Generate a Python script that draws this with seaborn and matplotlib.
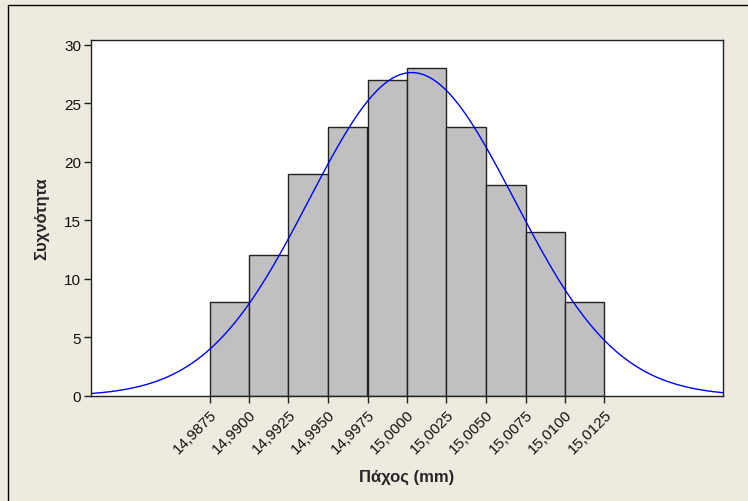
import numpy as np
import pandas as pd
import matplotlib
matplotlib.use("Agg")
import matplotlib.pyplot as plt
from matplotlib.lines import Line2D
import seaborn as sns

# Histogram of thickness measurements (bin edges in mm, counts per bin)
bin_edges = [14.9875, 14.9900, 14.9925, 14.9950, 14.9975, 15.0000,
             15.0025, 15.0050, 15.0075, 15.0100, 15.0125]
counts = [8, 12, 19, 23, 27, 28, 23, 18, 14, 8]
tick_labels = ["14,9875", "14,9900", "14,9925", "14,9950", "14,9975", "15,0000",
               "15,0025", "15,0050", "15,0075", "15,0100", "15,0125"]

# Fitted normal distribution
fit_mean = 15.0003
fit_std = 0.0065

bin_mids = [(a + b) / 2 for a, b in zip(bin_edges[:-1], bin_edges[1:])]
df = pd.DataFrame({"thickness": bin_mids, "count": counts})

sns.set_style("white")
plt.rcParams["font.family"] = ["Liberation Sans", "DejaVu Sans"]

bg = "#EEEAE0"
fig = plt.figure(figsize=(7.48, 5.02), dpi=100, facecolor=bg)
ax = fig.add_axes([91 / 748, 105 / 502, 632 / 748, 356 / 502])
ax.set_facecolor("white")

sns.histplot(data=df, x="thickness", weights="count", bins=bin_edges,
             color="#C0C0C0", edgecolor="#222222", linewidth=1.0, alpha=1.0,
             ax=ax)

# Normal curve scaled to the histogram counts
n_total = sum(counts)
width = bin_edges[1] - bin_edges[0]
xs = np.linspace(14.98, 15.02, 400)
pdf = np.exp(-0.5 * ((xs - fit_mean) / fit_std) ** 2) / (fit_std * np.sqrt(2 * np.pi))
sns.lineplot(x=xs, y=pdf * n_total * width, color="#0000FF", linewidth=1.0, ax=ax)

ax.set_xlim(14.98, 15.02)
ax.set_ylim(0, 30.4)
ax.set_yticks([0, 5, 10, 15, 20, 25, 30])
ax.set_xticks(bin_edges)
ax.set_xticklabels(tick_labels, rotation=45, ha="right", rotation_mode="anchor")

for s in ax.spines.values():
    s.set_color("#222222")
    s.set_linewidth(1.0)

ax.tick_params(axis="both", which="both", direction="out", length=5, width=1,
               color="#222222", labelsize=11, labelcolor="#111111", pad=2,
               bottom=True, left=True)
ax.tick_params(axis="x", pad=3)

ax.set_xlabel("Πάχος (mm)", fontsize=12, fontweight="bold", labelpad=9)
ax.set_ylabel("Συχνότητα", fontsize=12, fontweight="bold", labelpad=11)

# Frame lines on the left and top of the figure
fig.add_artist(Line2D([8 / 748, 8 / 748], [0, 1 - 6 / 502], transform=fig.transFigure,
                      color="black", linewidth=1.0))
fig.add_artist(Line2D([8 / 748, 1], [1 - 6 / 502, 1 - 6 / 502], transform=fig.transFigure,
                      color="black", linewidth=1.0))

fig.savefig("out.png", dpi=100, facecolor=bg)
